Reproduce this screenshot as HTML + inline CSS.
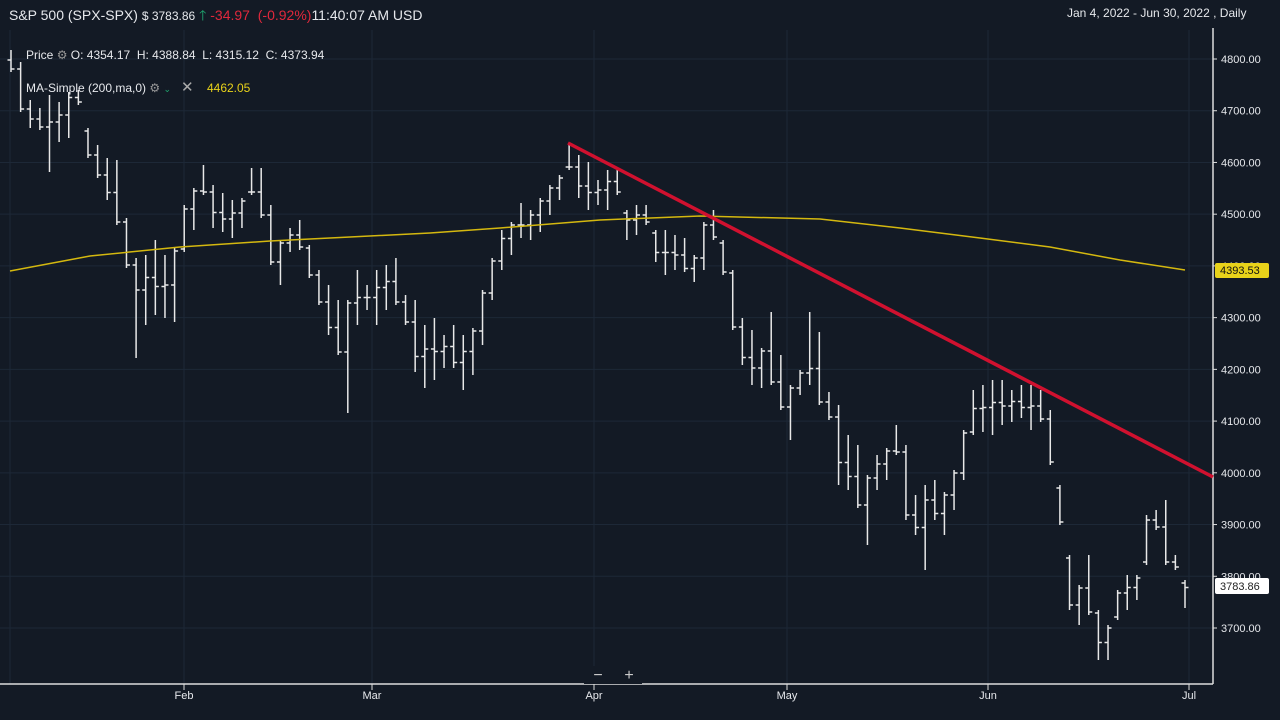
<!DOCTYPE html>
<html><head><meta charset="utf-8"><style>
body{margin:0;background:#131a25;width:1280px;height:720px;overflow:hidden;font-family:"Liberation Sans",sans-serif;}
svg{position:absolute;left:0;top:0}
.t{position:absolute;color:#e6e8ec;font-size:13px;white-space:nowrap}
</style></head><body>
<svg id="s" width="1280" height="720" xmlns="http://www.w3.org/2000/svg"></svg>
<div class="t" style="left:9px;top:5px;font-size:14px">S&amp;P 500 (SPX-SPX) <span style="font-size:12px">$ 3783.86</span> <span style="color:#1fa870">🡑</span> <span style="color:#e0283c">-34.97 &nbsp;(-0.92%)</span>11:40:07 AM USD</div>
<div class="t" style="left:1067px;top:6px;font-size:12px">Jan 4, 2022 - Jun 30, 2022 , Daily</div>
<div class="t" style="left:26px;top:48px;font-size:12px">Price <span style="color:#999">⚙</span> O: 4354.17 &nbsp;H: 4388.84 &nbsp;L: 4315.12 &nbsp;C: 4373.94</div>
<div class="t" style="left:26px;top:78px;font-size:12px">MA-Simple (200,ma,0) <span style="color:#999">⚙</span> <span style="color:#1fa870;font-size:9px">⌄</span> &nbsp;&nbsp;<span style="color:#aaa;font-size:15px">✕</span> &nbsp;&nbsp;&nbsp;<span style="color:#e8d21a">4462.05</span></div>
<script>
const s=document.getElementById('s');let h='';
const yv=p=>59+(4800-p)*0.51727;
for(let p=3700;p<=4800;p+=100){const y=yv(p);h+=`<line x1="0" x2="1213" y1="${y}" y2="${y}" stroke="#1d2837"/>`;h+=`<line x1="1213" x2="1217" y1="${y}" y2="${y}" stroke="#ddd"/><text x="1221" y="${y+4}" fill="#e6e8ec" font-size="11" font-family="Liberation Sans">${p}.00</text>`;}
[[184,'Feb'],[372,'Mar'],[594,'Apr'],[787,'May'],[988,'Jun'],[1189,'Jul']].forEach(([x,l])=>{h+=`<line x1="${x}" x2="${x}" y1="30" y2="684" stroke="#1d2837"/><line x1="${x}" x2="${x}" y1="684" y2="690" stroke="#ddd"/><text x="${x}" y="699" fill="#e6e8ec" font-size="11" text-anchor="middle" font-family="Liberation Sans">${l}</text>`;});
h+=`<line x1="10" x2="10" y1="30" y2="684" stroke="#1d2837"/>`;
h+=`<line x1="1213" x2="1213" y1="28" y2="684" stroke="#ddd" stroke-width="1.5"/><line x1="0" x2="1213" y1="684" y2="684" stroke="#ddd" stroke-width="1.5"/>`;
const d=[[50,72],[62,112],[100,128],[108,130],[95,172],[102,142],[92,138],[90,105],[128,158],[145,178],[158,200],[160,225],[218,268],[258,358],[255,325],[240,315],[255,318],[248,322],[205,252],[188,230],[165,195],[185,228],[193,232],[200,238],[198,228],[168,195],[168,218],[205,265],[240,285],[228,252],[220,250],[245,278],[270,305],[285,335],[300,355],[300,413],[270,325],[285,310],[270,325],[265,310],[258,305],[295,325],[300,372],[325,388],[318,380],[335,368],[325,368],[335,390],[328,375],[290,345],[258,300],[230,270],[222,255],[203,238],[210,240],[198,232],[185,215],[175,200],[145,170],[155,198],[162,210],[180,205],[170,210],[168,195],[210,240],[205,235],[205,225],[230,262],[230,275],[235,270],[238,272],[255,282],[222,270],[210,240],[240,275],[270,330],[318,365],[330,385],[348,388],[312,385],[355,410],[385,440],[370,395],[312,385],[332,405],[392,420],[405,485],[435,490],[445,508],[475,545],[455,490],[448,480],[425,455],[445,520],[495,535],[485,570],[480,520],[492,535],[470,510],[430,480],[390,435],[385,432],[380,435],[380,425],[390,422],[385,418],[385,430],[390,422],[410,465],[485,525],[555,610],[585,625],[555,615],[610,660],[625,660],[590,620],[575,610],[575,600],[515,565],[510,530],[500,565],[555,570],[580,608]];
const step=(1185-11)/(d.length-1);let pc=null;
d.forEach((b,i)=>{const x=11+i*step;const[t,bt]=b;const nx=d[i+1]||[575,600];let c=Math.min(bt-3,Math.max(t+3,(nx[0]+nx[1])/2));let o=pc==null?t+10:Math.min(bt-3,Math.max(t+3,pc));pc=c;
h+=`<g stroke="#e8e8e8" stroke-width="1.5"><line x1="${x}" x2="${x}" y1="${t}" y2="${bt}"/><line x1="${x-3.5}" x2="${x}" y1="${o}" y2="${o}"/><line x1="${x}" x2="${x+3.5}" y1="${c}" y2="${c}"/></g>`;});
h+=`<polyline fill="none" stroke="#d4b80f" stroke-width="1.5" points="10,271 90,256 180,247 270,241 350,237 430,233 500,228 600,220 700,216 820,219 900,228 980,238 1050,247 1120,260 1185,270"/>`;
h+=`<line x1="568" y1="143" x2="1213" y2="477" stroke="#d0112f" stroke-width="3.5"/>`;
h+=`<rect x="1215" y="263" width="54" height="15" rx="2" fill="#e8d21a"/><text x="1220" y="274" font-size="11" fill="#111" font-family="Liberation Sans">4393.53</text>`;
h+=`<rect x="1215" y="578" width="54" height="16" rx="2" fill="#fff"/><text x="1220" y="590" font-size="11" fill="#222" font-family="Liberation Sans">3783.86</text>`;
h+=`<rect x="584" y="666" width="58" height="18" fill="#131a25"/><text x="598" y="680" fill="#ccc" font-size="16" text-anchor="middle">−</text><text x="629" y="680" fill="#ccc" font-size="16" text-anchor="middle">+</text>`;
s.innerHTML=h;
</script>
</body></html>
